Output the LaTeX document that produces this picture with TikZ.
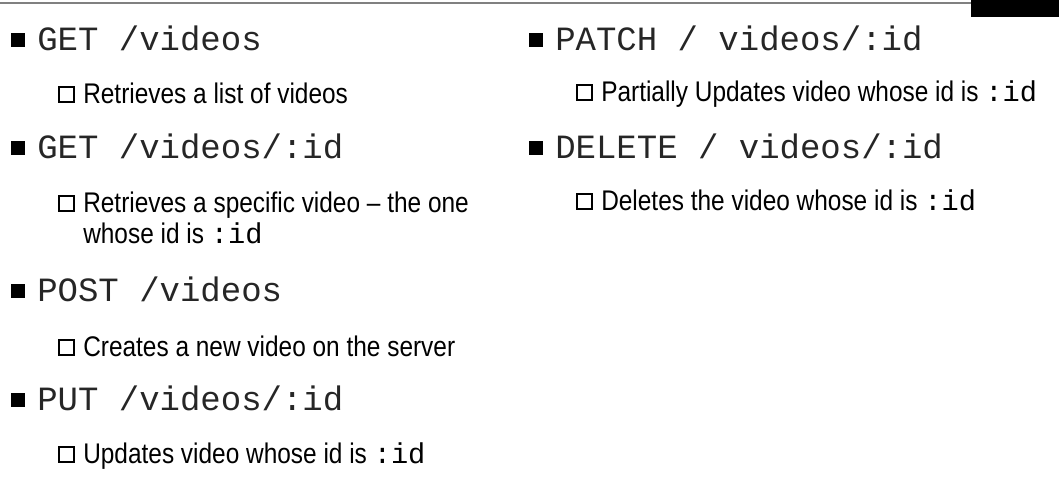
\documentclass[tikz,border=0pt]{standalone}
\usepackage{fontspec}
\setmainfont{Liberation Sans}[FakeStretch=0.86]
\setmonofont{Liberation Mono}
\begin{document}
\begin{tikzpicture}[x=0.75pt,y=-0.75pt,
 head/.style={anchor=base west,inner sep=0pt,font=\fontsize{25.5}{28}\ttfamily,text=black!85},
 sub/.style={anchor=base west,inner sep=0pt,font=\fontsize{21.3}{24}\selectfont,align=left},
 hbul/.style={draw=black,line width=1pt}]
\useasboundingbox (0,0) rectangle (1059,497);
\draw[gray,line width=1.2pt] (0,3) -- (972,3);
\fill[black] (971,0) rectangle (1059,17);
\newcommand{\myid}{{\ttfamily\fontsize{21.5}{24}\selectfont:id}}
% left column
\foreach \y/\t in {50/{GET /videos},158/{GET /videos/:id},301/{POST /videos},410/{PUT /videos/:id}}{
 \fill (11,\y-17) rectangle (25,\y-3);
 \node[head] at (37,\y) {\t};}
\foreach \y in {103,212,356,463}{\draw[hbul] (59,\y-16) rectangle (74,\y-1);}
\node[sub] (s1) at (83,103) {Retrieves a list of videos};
\node[sub] (s2) at (83,212) {Retrieves a specific video -- the one};
\node[sub] (s2b) at (83,243) {whose id is \myid};
\node[sub] (s3) at (83,356) {Creates a new video on the server};
\node[sub] (s4) at (83,463) {Updates video whose id is \myid};
% right column
\foreach \y/\t in {50/{PATCH / videos/:id},158/{DELETE / videos/:id}}{
 \fill (529,\y-17) rectangle (543,\y-3);
 \node[head] at (555,\y) {\t};}
\foreach \y in {101,210}{\draw[hbul] (577,\y-16) rectangle (592,\y-1);}
\node[sub] (r1) at (601,101) {Partially Updates video whose id is \myid};
\node[sub] (r2) at (601,210) {Deletes the video whose id is \myid};
\end{tikzpicture}
\end{document}
